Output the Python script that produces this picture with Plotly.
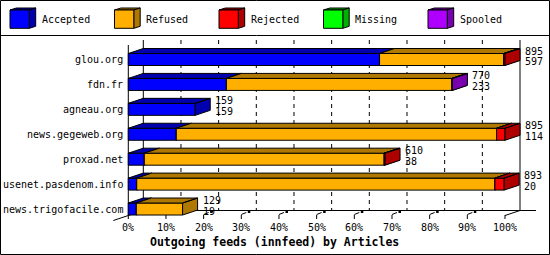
import plotly.graph_objects as go

# ---------------- data ----------------
hosts = ["glou.org", "fdn.fr", "agneau.org", "news.gegeweb.org",
         "proxad.net", "usenet.pasdenom.info", "news.trigofacile.com"]
accepted = [597, 233, 159, 114, 38, 20, 19]
refused = [295, 536, 0, 761, 570, 851, 110]
rejected = [3, 0, 0, 20, 2, 22, 0]
missing = [0, 0, 0, 0, 0, 0, 0]
spooled = [0, 1, 0, 0, 0, 0, 0]
series_names = ["Accepted", "Refused", "Rejected", "Missing", "Spooled"]
tick_pcts = [0, 10, 20, 30, 40, 50, 60, 70, 80, 90, 100]
title_text = "Outgoing feeds (innfeed) by Articles"

# ---------------- style ----------------
front_colors = ["#0000FF", "#FFAF00", "#FF0000", "#00FF00", "#AF00FF"]
dark_colors = ["#0000AF", "#AF7800", "#AF0000", "#00AF00", "#7800AF"]
FONT = "DejaVu Sans Mono"
W, H = 550, 255
X0, XS = 128.3, 3.767      # pixel of 0 %, pixels per %
Y0, YS = 59.5, 24.92       # pixel of first row centre, pixels per row
DXP, DYP = 15.0, -5.0      # 3-D depth offset (pixels)
BHP = 6.0                  # half bar height (pixels)

def ux(px):
    return (px - X0) / XS

def uy(py):
    return (py - Y0) / YS

dx = DXP / XS
dy = DYP / YS
hh = BHP / YS

series = [accepted, refused, rejected, missing, spooled]
totals = [sum(s[i] for s in series) for i in range(len(hosts))]
maxtot = max(totals)

fig = go.Figure()

# ---------------- bars (3-D boxes) ----------------
for k, s in enumerate(series):
    fx, fy, tx, ty = [], [], [], []
    for i in range(len(hosts)):
        cum = sum(series[j][i] for j in range(k))
        v = s[i]
        if v <= 0:
            continue
        a = cum / maxtot * 100
        b = (cum + v) / maxtot * 100
        top, bot = i - hh, i + hh
        fx += [a, b, b, a, a, None]
        fy += [top, top, bot, bot, top, None]
        # top face
        tx += [a, a + dx, b + dx, b, a, None]
        ty += [top, top + dy, top + dy, top, top, None]
        # side face
        tx += [b, b + dx, b + dx, b, b, None]
        ty += [top, top + dy, bot + dy, bot, top, None]
    if fx:
        fig.add_trace(go.Scatter(x=fx, y=fy, mode="lines", fill="toself",
                                 fillcolor=front_colors[k],
                                 line=dict(color="black", width=1),
                                 hoverinfo="skip", showlegend=False))
        fig.add_trace(go.Scatter(x=tx, y=ty, mode="lines", fill="toself",
                                 fillcolor=dark_colors[k],
                                 line=dict(color="black", width=1),
                                 hoverinfo="skip", showlegend=False))

shapes = []
# ---------------- back wall / grid (behind bars) ----------------
y_back_top = uy(40)
y_back_floor = uy(210.5)
for t in tick_pcts[1:-1]:
    shapes.append(dict(type="line", xref="x", yref="y", layer="below",
                       x0=t + dx, x1=t + dx, y0=y_back_top, y1=y_back_floor,
                       line=dict(color="black", width=1, dash="4px,4px")))
shapes.append(dict(type="line", xref="x", yref="y", layer="below",
                   x0=dx, x1=dx, y0=y_back_top, y1=y_back_floor,
                   line=dict(color="black", width=1)))
shapes.append(dict(type="line", xref="x", yref="y", layer="below",
                   x0=100 + dx, x1=100 + dx, y0=y_back_top, y1=y_back_floor,
                   line=dict(color="black", width=1)))
shapes.append(dict(type="line", xref="x", yref="y", layer="below",
                   x0=0, x1=0, y0=uy(45), y1=uy(215),
                   line=dict(color="black", width=1)))
shapes.append(dict(type="line", xref="x", yref="y", layer="below",
                   x0=dx, x1=ux(536), y0=y_back_floor, y1=y_back_floor,
                   line=dict(color="black", width=1)))
# floor slants
shapes.append(dict(type="line", xref="x", yref="y", layer="below",
                   x0=-dx, x1=dx, y0=uy(220.5), y1=y_back_floor,
                   line=dict(color="black", width=1)))
shapes.append(dict(type="line", xref="x", yref="y", layer="below",
                   x0=100, x1=100 + dx, y0=uy(215.5), y1=y_back_floor,
                   line=dict(color="black", width=1)))
# front ticks
for t in tick_pcts:
    shapes.append(dict(type="line", xref="x", yref="y", layer="below",
                       x0=t, x1=t, y0=uy(215), y1=uy(219),
                       line=dict(color="black", width=1)))
for t in tick_pcts[2:-1]:
    shapes.append(dict(type="line", xref="x", yref="y", layer="below",
                       x0=t, x1=t + 5 / XS, y0=uy(214.5), y1=uy(212.5),
                       line=dict(color="black", width=1)))
    shapes.append(dict(type="rect", xref="x", yref="y", layer="below",
                       x0=t + 6.5 / XS, x1=t + 9 / XS, y0=uy(211), y1=uy(213),
                       fillcolor="black", line=dict(width=0)))

# ---------------- frame ----------------
def pxp(px):
    return px / W

def pyp(py):
    return 1 - py / H

shapes.append(dict(type="rect", xref="paper", yref="paper",
                   x0=pxp(0.5), x1=pxp(549.5), y0=pyp(0.5), y1=pyp(254.5),
                   line=dict(color="black", width=1)))
shapes.append(dict(type="line", xref="paper", yref="paper",
                   x0=pxp(0), x1=pxp(550), y0=pyp(35.5), y1=pyp(35.5),
                   line=dict(color="black", width=1)))

annotations = []
# ---------------- legend ----------------
for k, name in enumerate(series_names):
    lx = 10 + 104.5 * k
    fl, fr, ft, fb = lx, lx + 19.3, 10, 28.3
    ldx, ldy = 6.4, -2
    def pth(pts):
        return "M " + " L ".join(f"{pxp(a)},{pyp(b)}" for a, b in pts) + " Z"
    shapes.append(dict(type="path", xref="paper", yref="paper",
                       path=pth([(fl, ft), (fl + ldx, ft + ldy), (fr + ldx, ft + ldy), (fr, ft)]),
                       fillcolor=dark_colors[k], line=dict(color="black", width=1)))
    shapes.append(dict(type="path", xref="paper", yref="paper",
                       path=pth([(fr, ft), (fr + ldx, ft + ldy), (fr + ldx, fb + ldy), (fr, fb)]),
                       fillcolor=dark_colors[k], line=dict(color="black", width=1)))
    shapes.append(dict(type="path", xref="paper", yref="paper",
                       path=pth([(fl, ft), (fr, ft), (fr, fb), (fl, fb)]),
                       fillcolor=front_colors[k], line=dict(color="black", width=1)))
    annotations.append(dict(xref="paper", yref="paper", x=pxp(lx + 29.5), y=pyp(20),
                            text=name, showarrow=False, xanchor="left", yanchor="middle",
                            font=dict(family=FONT, size=10, color="black")))

# ---------------- host labels ----------------
for i, hname in enumerate(hosts):
    annotations.append(dict(xref="x", yref="y", x=ux(125), y=i, text=hname,
                            showarrow=False, xanchor="right", yanchor="middle",
                            font=dict(family=FONT, size=10, color="black")))

# ---------------- value labels ----------------
for i in range(len(hosts)):
    xe = totals[i] / maxtot * 100 + dx + 3.0 / XS
    annotations.append(dict(xref="x", yref="y", x=xe, y=i - 8.5 / YS, text=str(totals[i]),
                            showarrow=False, xanchor="left", yanchor="middle",
                            font=dict(family=FONT, size=10, color="black")))
    annotations.append(dict(xref="x", yref="y", x=xe, y=i + 2.0 / YS, text=str(accepted[i]),
                            showarrow=False, xanchor="left", yanchor="middle",
                            font=dict(family=FONT, size=10, color="black")))

# ---------------- tick labels ----------------
for t in tick_pcts:
    annotations.append(dict(xref="x", yref="y", x=t, y=uy(227.5), text=f"{t}%",
                            showarrow=False, xanchor="center", yanchor="middle",
                            font=dict(family=FONT, size=10, color="black")))

annotations.append(dict(xref="x", yref="y", x=ux(274.3), y=uy(242), text=f"<b>{title_text}</b>",
                        showarrow=False, xanchor="center", yanchor="middle",
                        font=dict(family=FONT, size=11.5, color="black")))

fig.update_layout(
    width=W, height=H,
    margin=dict(l=0, r=0, t=0, b=0, pad=0),
    paper_bgcolor="white", plot_bgcolor="white",
    showlegend=False,
    xaxis=dict(range=[ux(0), ux(W)], visible=False, fixedrange=True),
    yaxis=dict(range=[uy(H), uy(0)], visible=False, fixedrange=True),
    shapes=shapes, annotations=annotations,
)

fig.write_html("out.html", config={"displayModeBar": False})
